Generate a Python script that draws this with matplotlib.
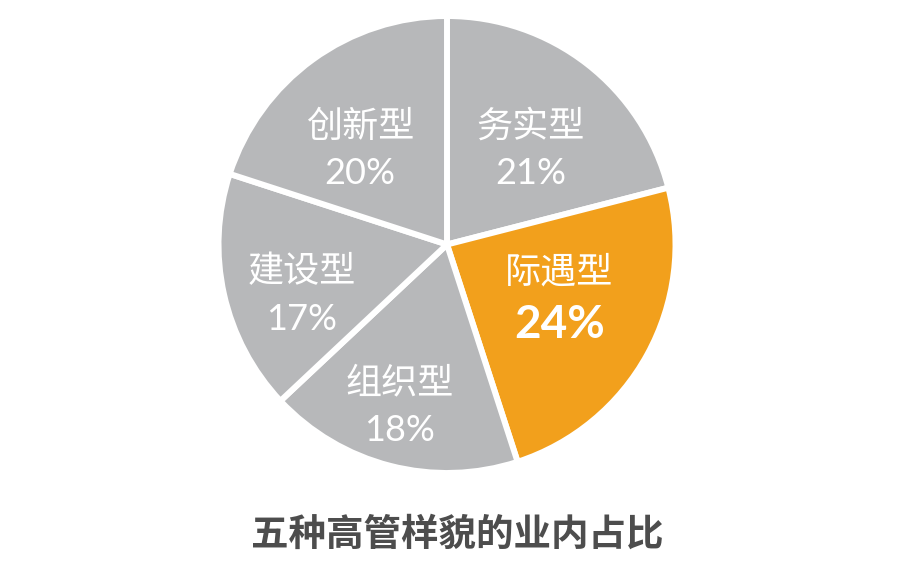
import matplotlib
matplotlib.use("Agg")
import matplotlib.pyplot as plt
import numpy as np

plt.rcParams['font.family'] = ['Noto Sans CJK SC', 'DejaVu Sans']

categories = ['务实型', '际遇型', '组织型', '建设型', '创新型']
values = [21, 24, 18, 17, 20]
pct_labels = ['21%', '24%', '18%', '17%', '20%']
highlight = '际遇型'
title = '五种高管样貌的业内占比'

grey = '#B7B8BA'
orange = '#F2A01C'

fig = plt.figure(figsize=(9, 5.63), dpi=100)
ax = fig.add_axes([0, 0, 1, 1])

cx, cy, R = 447, 318.5, 228.5
colors = [orange if c == highlight else grey for c in categories]
explode = [0.028 if c == highlight else 0 for c in categories]
wedges, _ = ax.pie(values, colors=colors, startangle=90, counterclock=False,
                   center=(cx, cy), radius=R, explode=explode,
                   wedgeprops=dict(edgecolor='white', linewidth=4.3))
ax.set_xlim(0, 900)
ax.set_ylim(0, 563)
ax.set_aspect('equal')
ax.axis('off')

# label placement: radial distance (fraction of R) and angle tweak (deg)
label_r = [0.56, 0.54, 0.73, 0.67, 0.57]
label_da = [-3, 4.5, -2, 6, 6]
for w, cat, pct, lr, da in zip(wedges, categories, pct_labels, label_r, label_da):
    ang = np.deg2rad((w.theta1 + w.theta2) / 2 + da)
    wx, wy = w.center
    x = wx + lr * R * np.cos(ang)
    y = wy + lr * R * np.sin(ang) - 2
    bold = cat == highlight
    ax.text(x, y + (25 if bold else 23), cat, ha='center', va='center',
            color='white', fontsize=26)
    ax.text(x, y - (28 if bold else 24), pct, ha='center', va='center',
            color='white', fontsize=33 if bold else 26,
            fontweight='bold' if bold else 'normal',
            family=['Lato', 'DejaVu Sans'])

ax.text(457, 563 - 534, title, ha='center', va='center', color='#4D4D4D',
        fontsize=27, fontweight='bold')

fig.savefig('out.png', dpi=100)
